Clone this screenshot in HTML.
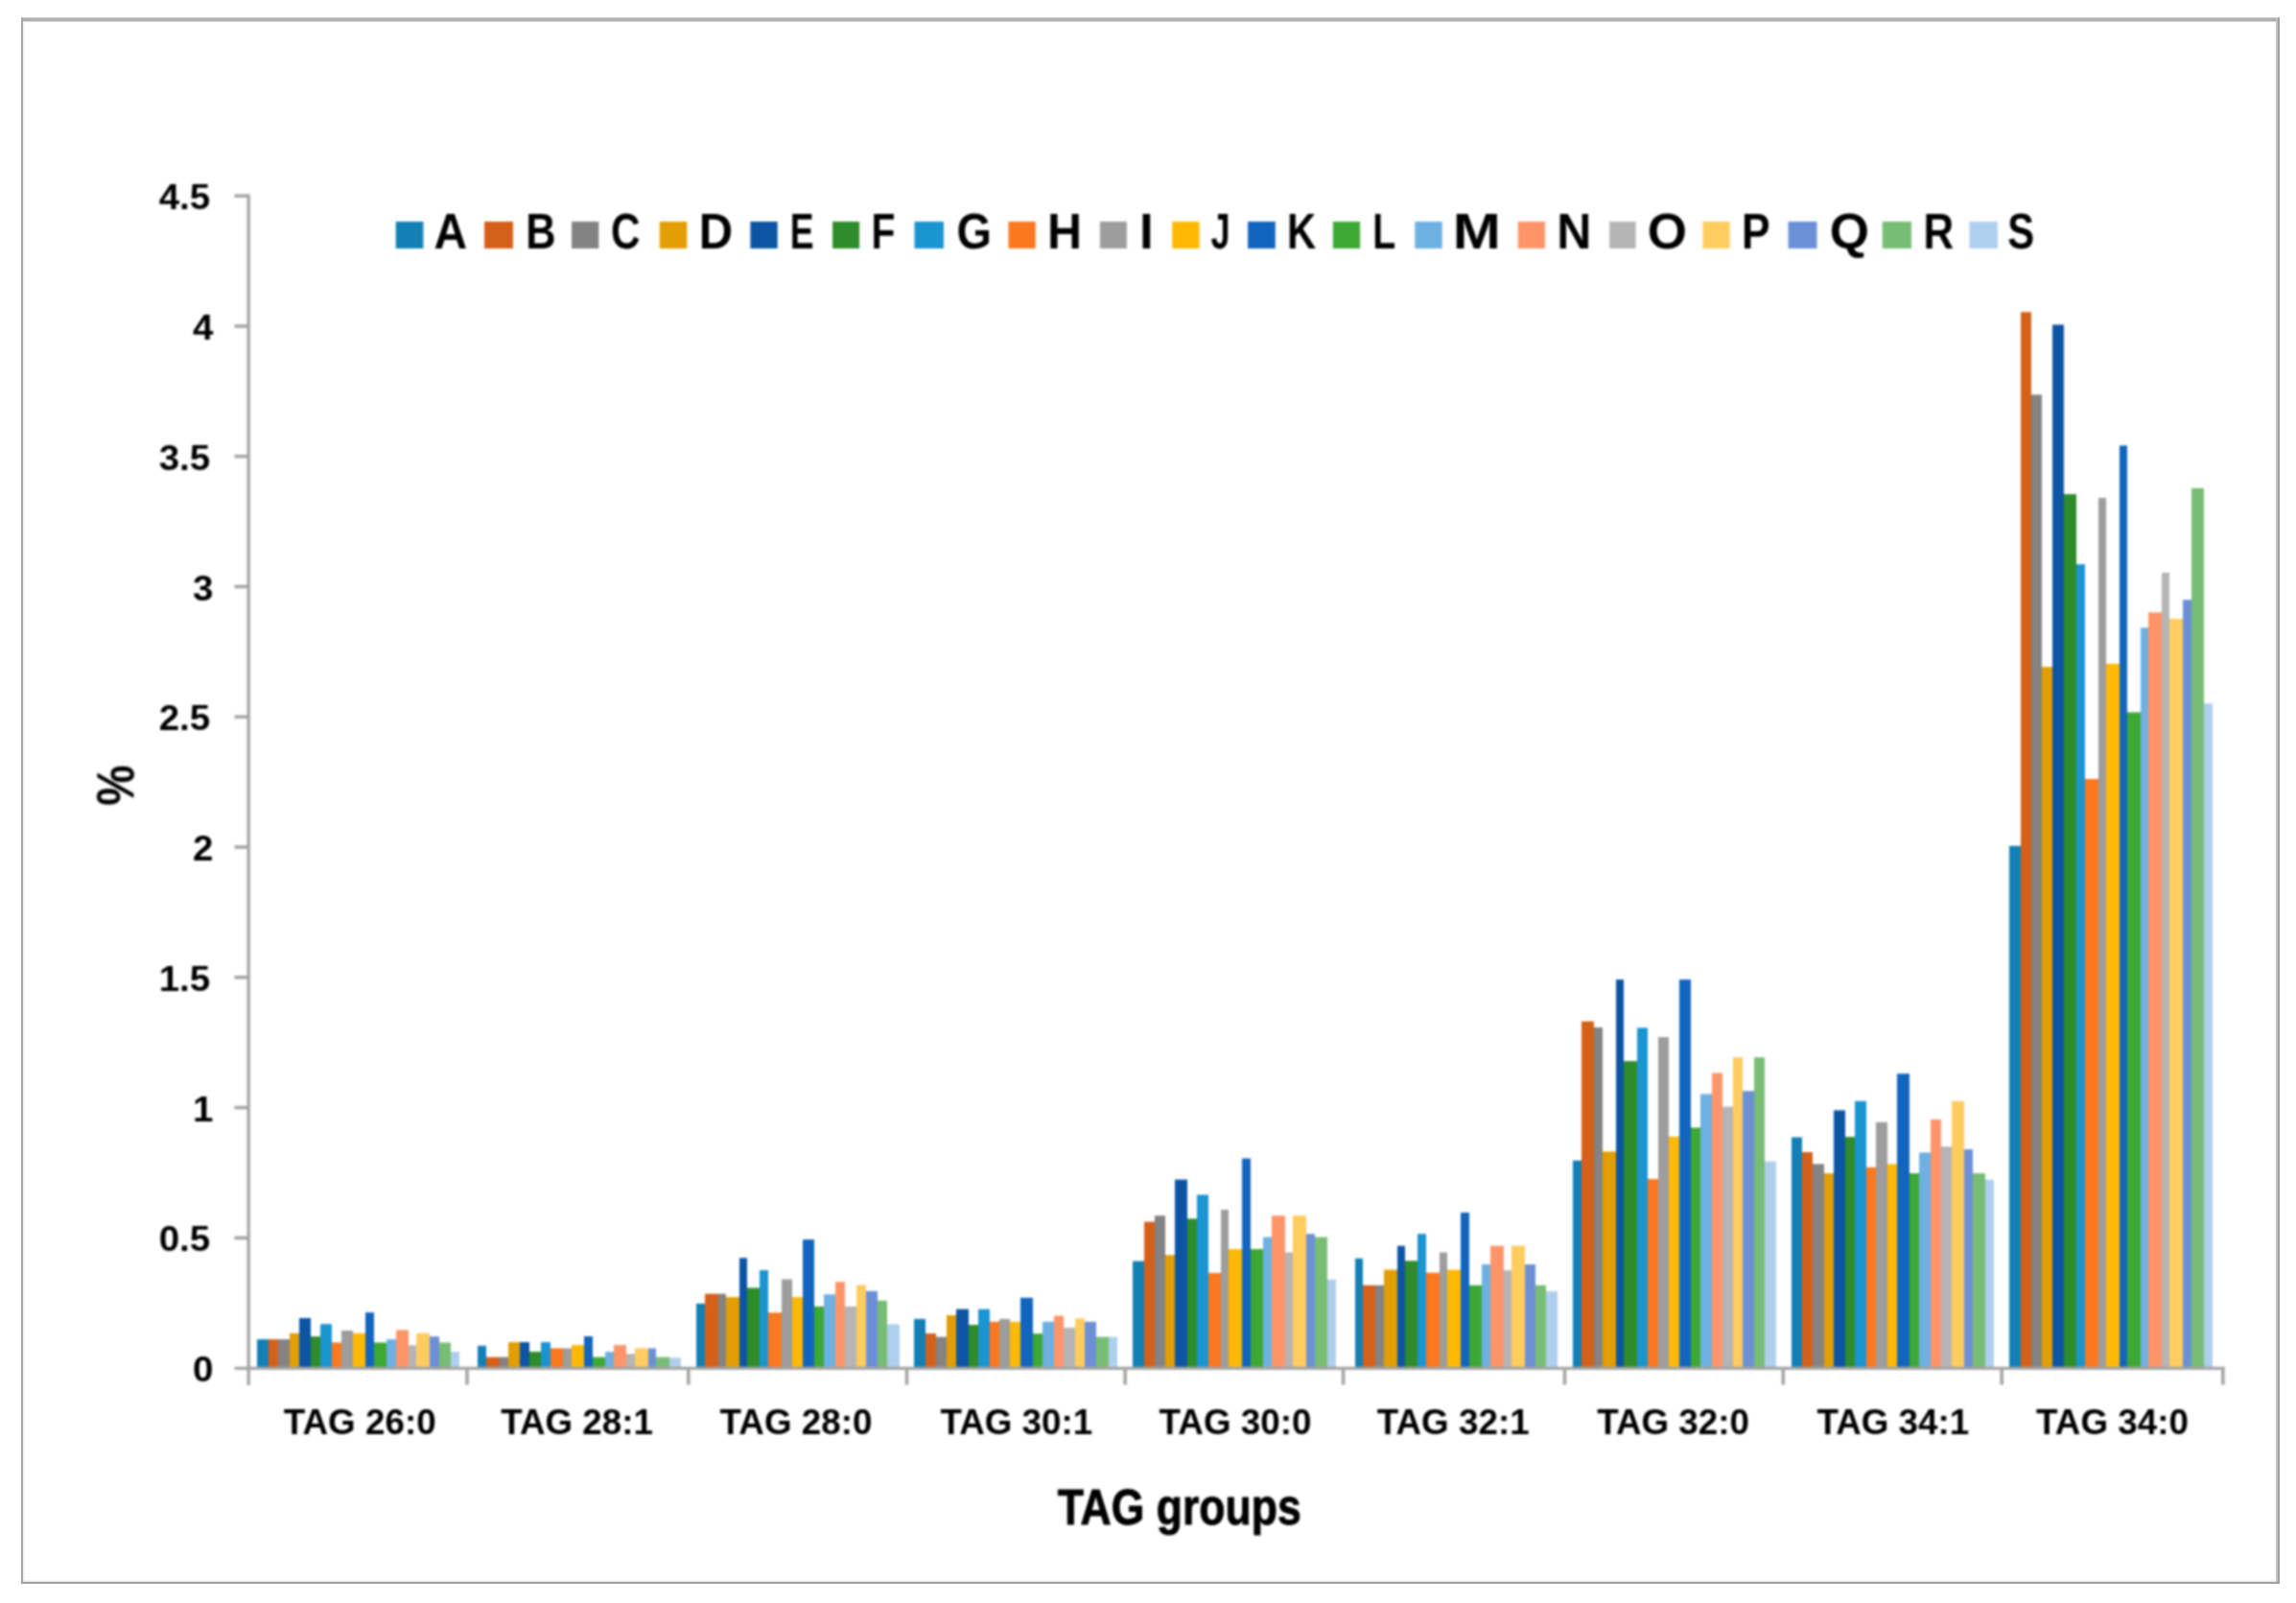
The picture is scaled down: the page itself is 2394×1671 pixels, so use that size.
<!DOCTYPE html>
<html lang="en"><head><meta charset="utf-8"><title>TAG groups</title>
<style>html,body{margin:0;padding:0;background:#fff}body{width:2394px;height:1671px;overflow:hidden}svg{display:block}.soft{filter:blur(0.9px)}text{font-family:"Liberation Sans",sans-serif;font-weight:bold;fill:#000}.t36{font-size:36px}.t37{font-size:37px}.t48{font-size:51px}</style></head><body>
<svg width="2394" height="1671" viewBox="0 0 2394 1671">
<rect x="0" y="0" width="2394" height="1671" fill="#ffffff"/>
<g>
<rect x="22" y="18.4" width="2355" height="4.1" fill="#b0b0b0"/>
<rect x="22" y="18.4" width="2.2" height="1632.6" fill="#a8a8a8"/>
<rect x="24.2" y="22.5" width="1.4" height="1625" fill="#f4f4f4"/>
<rect x="2373.1" y="18.4" width="1.9" height="1632.6" fill="#c2c2c2"/>
<rect x="2375" y="18.4" width="2" height="1632.6" fill="#a0a0a0"/>
<rect x="24" y="1647.3" width="2349" height="1.6" fill="#f2f2f2"/>
<rect x="22" y="1648.9" width="2355" height="2.1" fill="#a0a0a0"/>
</g>
<g class="soft">
<g shape-rendering="geometricPrecision">
<rect x="268.00" y="1396.1" width="12.00" height="29.9" fill="#1280B4"/>
<rect x="280.00" y="1396.1" width="10.00" height="29.9" fill="#D4601A"/>
<rect x="290.00" y="1396.1" width="12.00" height="29.9" fill="#838383"/>
<rect x="302.00" y="1389.8" width="10.00" height="36.2" fill="#E29E03"/>
<rect x="312.00" y="1374.0" width="12.00" height="52.0" fill="#0B55A4"/>
<rect x="324.00" y="1393.2" width="10.00" height="32.8" fill="#2F8C2A"/>
<rect x="334.00" y="1380.2" width="12.00" height="45.8" fill="#1B94D2"/>
<rect x="346.00" y="1399.5" width="10.00" height="26.5" fill="#FB7720"/>
<rect x="356.00" y="1387.0" width="12.00" height="39.0" fill="#9D9D9D"/>
<rect x="368.00" y="1389.8" width="13.00" height="36.2" fill="#FFB905"/>
<rect x="381.00" y="1368.1" width="9.00" height="57.9" fill="#1265BE"/>
<rect x="390.00" y="1399.5" width="13.00" height="26.5" fill="#3DA934"/>
<rect x="403.00" y="1396.1" width="10.00" height="29.9" fill="#6DB1E3"/>
<rect x="413.00" y="1386.4" width="13.00" height="39.6" fill="#FF9468"/>
<rect x="426.00" y="1402.3" width="8.00" height="23.7" fill="#B5B5B5"/>
<rect x="434.00" y="1389.8" width="14.00" height="36.2" fill="#FFCC5E"/>
<rect x="448.00" y="1393.2" width="10.00" height="32.8" fill="#6B90D6"/>
<rect x="458.00" y="1399.5" width="12.00" height="26.5" fill="#78BD74"/>
<rect x="470.00" y="1409.1" width="9.00" height="16.9" fill="#AFCFEE"/>
<rect x="498.00" y="1402.8" width="9.00" height="23.2" fill="#1280B4"/>
<rect x="507.00" y="1414.7" width="14.00" height="11.3" fill="#D4601A"/>
<rect x="521.00" y="1414.7" width="9.00" height="11.3" fill="#838383"/>
<rect x="530.00" y="1399.1" width="12.00" height="26.9" fill="#E29E03"/>
<rect x="542.00" y="1399.1" width="10.00" height="26.9" fill="#0B55A4"/>
<rect x="552.00" y="1409.1" width="12.00" height="16.9" fill="#2F8C2A"/>
<rect x="564.00" y="1399.1" width="10.00" height="26.9" fill="#1B94D2"/>
<rect x="574.00" y="1405.5" width="13.00" height="20.5" fill="#FB7720"/>
<rect x="587.00" y="1405.5" width="9.00" height="20.5" fill="#9D9D9D"/>
<rect x="596.00" y="1402.1" width="13.00" height="23.9" fill="#FFB905"/>
<rect x="609.00" y="1393.0" width="9.00" height="33.0" fill="#1265BE"/>
<rect x="618.00" y="1414.7" width="13.00" height="11.3" fill="#3DA934"/>
<rect x="631.00" y="1409.1" width="9.00" height="16.9" fill="#6DB1E3"/>
<rect x="640.00" y="1402.1" width="13.00" height="23.9" fill="#FF9468"/>
<rect x="653.00" y="1411.3" width="9.00" height="14.7" fill="#B5B5B5"/>
<rect x="662.00" y="1405.5" width="14.00" height="20.5" fill="#FFCC5E"/>
<rect x="676.00" y="1405.5" width="8.00" height="20.5" fill="#6B90D6"/>
<rect x="684.00" y="1414.7" width="14.00" height="11.3" fill="#78BD74"/>
<rect x="698.00" y="1415.3" width="12.00" height="10.7" fill="#AFCFEE"/>
<rect x="726.00" y="1358.9" width="9.00" height="67.1" fill="#1280B4"/>
<rect x="735.00" y="1348.7" width="14.00" height="77.3" fill="#D4601A"/>
<rect x="749.00" y="1348.7" width="8.00" height="77.3" fill="#838383"/>
<rect x="757.00" y="1352.1" width="14.00" height="73.9" fill="#E29E03"/>
<rect x="771.00" y="1311.3" width="8.00" height="114.7" fill="#0B55A4"/>
<rect x="779.00" y="1342.5" width="13.00" height="83.5" fill="#2F8C2A"/>
<rect x="792.00" y="1324.1" width="9.00" height="101.9" fill="#1B94D2"/>
<rect x="801.00" y="1368.3" width="14.00" height="57.7" fill="#FB7720"/>
<rect x="815.00" y="1333.6" width="11.00" height="92.4" fill="#9D9D9D"/>
<rect x="826.00" y="1352.1" width="11.00" height="73.9" fill="#FFB905"/>
<rect x="837.00" y="1292.1" width="12.00" height="133.9" fill="#1265BE"/>
<rect x="849.00" y="1361.9" width="10.00" height="64.1" fill="#3DA934"/>
<rect x="859.00" y="1349.3" width="12.00" height="76.7" fill="#6DB1E3"/>
<rect x="871.00" y="1336.2" width="10.00" height="89.8" fill="#FF9468"/>
<rect x="881.00" y="1361.9" width="12.00" height="64.1" fill="#B5B5B5"/>
<rect x="893.00" y="1339.6" width="10.00" height="86.4" fill="#FFCC5E"/>
<rect x="903.00" y="1345.9" width="12.00" height="80.1" fill="#6B90D6"/>
<rect x="915.00" y="1355.8" width="10.00" height="70.2" fill="#78BD74"/>
<rect x="925.00" y="1380.4" width="13.00" height="45.6" fill="#AFCFEE"/>
<rect x="953.00" y="1374.9" width="12.00" height="51.1" fill="#1280B4"/>
<rect x="965.00" y="1390.0" width="11.00" height="36.0" fill="#D4601A"/>
<rect x="976.00" y="1393.6" width="11.00" height="32.4" fill="#838383"/>
<rect x="987.00" y="1371.0" width="10.00" height="55.0" fill="#E29E03"/>
<rect x="997.00" y="1364.7" width="13.00" height="61.3" fill="#0B55A4"/>
<rect x="1010.00" y="1381.1" width="10.00" height="44.9" fill="#2F8C2A"/>
<rect x="1020.00" y="1364.7" width="12.00" height="61.3" fill="#1B94D2"/>
<rect x="1032.00" y="1377.8" width="10.00" height="48.2" fill="#FB7720"/>
<rect x="1042.00" y="1374.9" width="11.00" height="51.1" fill="#9D9D9D"/>
<rect x="1053.00" y="1377.8" width="11.00" height="48.2" fill="#FFB905"/>
<rect x="1064.00" y="1352.8" width="13.00" height="73.2" fill="#1265BE"/>
<rect x="1077.00" y="1390.2" width="10.00" height="35.8" fill="#3DA934"/>
<rect x="1087.00" y="1377.8" width="12.00" height="48.2" fill="#6DB1E3"/>
<rect x="1099.00" y="1371.5" width="10.00" height="54.5" fill="#FF9468"/>
<rect x="1109.00" y="1384.0" width="12.00" height="42.0" fill="#B5B5B5"/>
<rect x="1121.00" y="1374.4" width="10.00" height="51.6" fill="#FFCC5E"/>
<rect x="1131.00" y="1377.8" width="12.00" height="48.2" fill="#6B90D6"/>
<rect x="1143.00" y="1393.6" width="13.00" height="32.4" fill="#78BD74"/>
<rect x="1156.00" y="1393.6" width="9.00" height="32.4" fill="#AFCFEE"/>
<rect x="1181.00" y="1314.6" width="12.00" height="111.4" fill="#1280B4"/>
<rect x="1193.00" y="1273.6" width="11.00" height="152.4" fill="#D4601A"/>
<rect x="1204.00" y="1267.2" width="11.00" height="158.8" fill="#838383"/>
<rect x="1215.00" y="1308.3" width="10.00" height="117.7" fill="#E29E03"/>
<rect x="1225.00" y="1229.6" width="13.00" height="196.4" fill="#0B55A4"/>
<rect x="1238.00" y="1270.4" width="10.00" height="155.6" fill="#2F8C2A"/>
<rect x="1248.00" y="1245.5" width="12.00" height="180.5" fill="#1B94D2"/>
<rect x="1260.00" y="1327.0" width="13.00" height="99.0" fill="#FB7720"/>
<rect x="1273.00" y="1261.1" width="8.00" height="164.9" fill="#9D9D9D"/>
<rect x="1281.00" y="1302.1" width="14.00" height="123.9" fill="#FFB905"/>
<rect x="1295.00" y="1207.6" width="9.00" height="218.4" fill="#1265BE"/>
<rect x="1304.00" y="1302.1" width="13.00" height="123.9" fill="#3DA934"/>
<rect x="1317.00" y="1289.6" width="9.00" height="136.4" fill="#6DB1E3"/>
<rect x="1326.00" y="1267.2" width="14.00" height="158.8" fill="#FF9468"/>
<rect x="1340.00" y="1305.5" width="8.00" height="120.5" fill="#B5B5B5"/>
<rect x="1348.00" y="1267.2" width="14.00" height="158.8" fill="#FFCC5E"/>
<rect x="1362.00" y="1286.3" width="9.00" height="139.7" fill="#6B90D6"/>
<rect x="1371.00" y="1289.6" width="13.00" height="136.4" fill="#78BD74"/>
<rect x="1384.00" y="1333.8" width="9.00" height="92.2" fill="#AFCFEE"/>
<rect x="1413.00" y="1311.8" width="8.00" height="114.2" fill="#1280B4"/>
<rect x="1421.00" y="1339.8" width="13.00" height="86.2" fill="#D4601A"/>
<rect x="1434.00" y="1339.8" width="9.00" height="86.2" fill="#838383"/>
<rect x="1443.00" y="1323.6" width="14.00" height="102.4" fill="#E29E03"/>
<rect x="1457.00" y="1298.7" width="8.00" height="127.3" fill="#0B55A4"/>
<rect x="1465.00" y="1314.3" width="13.00" height="111.7" fill="#2F8C2A"/>
<rect x="1478.00" y="1286.2" width="9.00" height="139.8" fill="#1B94D2"/>
<rect x="1487.00" y="1326.7" width="14.00" height="99.3" fill="#FB7720"/>
<rect x="1501.00" y="1305.5" width="8.00" height="120.5" fill="#9D9D9D"/>
<rect x="1509.00" y="1323.6" width="14.00" height="102.4" fill="#FFB905"/>
<rect x="1523.00" y="1264.0" width="9.00" height="162.0" fill="#1265BE"/>
<rect x="1532.00" y="1339.8" width="13.00" height="86.2" fill="#3DA934"/>
<rect x="1545.00" y="1318.0" width="9.00" height="108.0" fill="#6DB1E3"/>
<rect x="1554.00" y="1298.7" width="14.00" height="127.3" fill="#FF9468"/>
<rect x="1568.00" y="1324.2" width="8.00" height="101.8" fill="#B5B5B5"/>
<rect x="1576.00" y="1298.7" width="14.00" height="127.3" fill="#FFCC5E"/>
<rect x="1590.00" y="1318.0" width="11.00" height="108.0" fill="#6B90D6"/>
<rect x="1601.00" y="1339.8" width="11.00" height="86.2" fill="#78BD74"/>
<rect x="1612.00" y="1346.1" width="12.00" height="79.9" fill="#AFCFEE"/>
<rect x="1640.00" y="1209.8" width="9.00" height="216.2" fill="#1280B4"/>
<rect x="1649.00" y="1064.7" width="13.00" height="361.3" fill="#D4601A"/>
<rect x="1662.00" y="1071.0" width="9.00" height="355.0" fill="#838383"/>
<rect x="1671.00" y="1200.4" width="14.00" height="225.6" fill="#E29E03"/>
<rect x="1685.00" y="1021.1" width="8.00" height="404.9" fill="#0B55A4"/>
<rect x="1693.00" y="1106.1" width="14.00" height="319.9" fill="#2F8C2A"/>
<rect x="1707.00" y="1071.4" width="11.00" height="354.6" fill="#1B94D2"/>
<rect x="1718.00" y="1229.0" width="11.00" height="197.0" fill="#FB7720"/>
<rect x="1729.00" y="1081.1" width="11.00" height="344.9" fill="#9D9D9D"/>
<rect x="1740.00" y="1184.8" width="11.00" height="241.2" fill="#FFB905"/>
<rect x="1751.00" y="1021.1" width="12.00" height="404.9" fill="#1265BE"/>
<rect x="1763.00" y="1175.5" width="10.00" height="250.5" fill="#3DA934"/>
<rect x="1773.00" y="1140.4" width="12.00" height="285.6" fill="#6DB1E3"/>
<rect x="1785.00" y="1118.5" width="11.00" height="307.5" fill="#FF9468"/>
<rect x="1796.00" y="1153.6" width="11.00" height="272.4" fill="#B5B5B5"/>
<rect x="1807.00" y="1102.2" width="10.00" height="323.8" fill="#FFCC5E"/>
<rect x="1817.00" y="1137.3" width="12.00" height="288.7" fill="#6B90D6"/>
<rect x="1829.00" y="1102.2" width="11.00" height="323.8" fill="#78BD74"/>
<rect x="1840.00" y="1210.6" width="12.00" height="215.4" fill="#AFCFEE"/>
<rect x="1868.00" y="1185.5" width="11.00" height="240.5" fill="#1280B4"/>
<rect x="1879.00" y="1201.0" width="11.00" height="225.0" fill="#D4601A"/>
<rect x="1890.00" y="1213.4" width="12.00" height="212.6" fill="#838383"/>
<rect x="1902.00" y="1223.1" width="10.00" height="202.9" fill="#E29E03"/>
<rect x="1912.00" y="1157.4" width="12.00" height="268.6" fill="#0B55A4"/>
<rect x="1924.00" y="1185.1" width="10.00" height="240.9" fill="#2F8C2A"/>
<rect x="1934.00" y="1147.8" width="12.00" height="278.2" fill="#1B94D2"/>
<rect x="1946.00" y="1216.8" width="10.00" height="209.2" fill="#FB7720"/>
<rect x="1956.00" y="1169.8" width="12.00" height="256.2" fill="#9D9D9D"/>
<rect x="1968.00" y="1213.4" width="10.00" height="212.6" fill="#FFB905"/>
<rect x="1978.00" y="1119.2" width="13.00" height="306.8" fill="#1265BE"/>
<rect x="1991.00" y="1223.1" width="10.00" height="202.9" fill="#3DA934"/>
<rect x="2001.00" y="1201.5" width="12.00" height="224.5" fill="#6DB1E3"/>
<rect x="2013.00" y="1167.0" width="11.00" height="259.0" fill="#FF9468"/>
<rect x="2024.00" y="1195.3" width="11.00" height="230.7" fill="#B5B5B5"/>
<rect x="2035.00" y="1147.8" width="13.00" height="278.2" fill="#FFCC5E"/>
<rect x="2048.00" y="1198.1" width="9.00" height="227.9" fill="#6B90D6"/>
<rect x="2057.00" y="1223.1" width="13.00" height="202.9" fill="#78BD74"/>
<rect x="2070.00" y="1229.8" width="9.00" height="196.2" fill="#AFCFEE"/>
<rect x="2095.00" y="881.8" width="12.00" height="544.2" fill="#1280B4"/>
<rect x="2107.00" y="325.3" width="11.00" height="1100.7" fill="#D4601A"/>
<rect x="2118.00" y="411.4" width="11.00" height="1014.6" fill="#838383"/>
<rect x="2129.00" y="695.2" width="11.00" height="730.8" fill="#E29E03"/>
<rect x="2140.00" y="338.5" width="12.00" height="1087.5" fill="#0B55A4"/>
<rect x="2152.00" y="515.1" width="13.00" height="910.9" fill="#2F8C2A"/>
<rect x="2165.00" y="588.2" width="9.00" height="837.8" fill="#1B94D2"/>
<rect x="2174.00" y="812.0" width="14.00" height="614.0" fill="#FB7720"/>
<rect x="2188.00" y="519.0" width="8.00" height="907.0" fill="#9D9D9D"/>
<rect x="2196.00" y="691.9" width="14.00" height="734.1" fill="#FFB905"/>
<rect x="2210.00" y="464.4" width="8.00" height="961.6" fill="#1265BE"/>
<rect x="2218.00" y="742.5" width="14.00" height="683.5" fill="#3DA934"/>
<rect x="2232.00" y="654.3" width="8.00" height="771.7" fill="#6DB1E3"/>
<rect x="2240.00" y="638.4" width="14.00" height="787.6" fill="#FF9468"/>
<rect x="2254.00" y="596.9" width="8.00" height="829.1" fill="#B5B5B5"/>
<rect x="2262.00" y="645.0" width="14.00" height="781.0" fill="#FFCC5E"/>
<rect x="2276.00" y="625.3" width="9.00" height="800.7" fill="#6B90D6"/>
<rect x="2285.00" y="508.9" width="13.00" height="917.1" fill="#78BD74"/>
<rect x="2298.00" y="733.4" width="9.00" height="692.6" fill="#AFCFEE"/>
</g>
<g stroke="#a5a5a5" stroke-width="3.3" fill="none">
<line x1="259.2" y1="202.5" x2="259.2" y2="1444"/>
<line x1="244.5" y1="1426.3" x2="2319.8" y2="1426.3"/>
</g>
<g stroke="#a5a5a5" stroke-width="3.6" fill="none">
<line x1="244.5" y1="204.2" x2="259.2" y2="204.2"/>
<line x1="244.5" y1="340.0" x2="259.2" y2="340.0"/>
<line x1="244.5" y1="475.7" x2="259.2" y2="475.7"/>
<line x1="244.5" y1="611.5" x2="259.2" y2="611.5"/>
<line x1="244.5" y1="747.3" x2="259.2" y2="747.3"/>
<line x1="244.5" y1="883.0" x2="259.2" y2="883.0"/>
<line x1="244.5" y1="1018.8" x2="259.2" y2="1018.8"/>
<line x1="244.5" y1="1154.6" x2="259.2" y2="1154.6"/>
<line x1="244.5" y1="1290.4" x2="259.2" y2="1290.4"/>
<line x1="487.0" y1="1426.3" x2="487.0" y2="1443.5"/>
<line x1="717.8" y1="1426.3" x2="717.8" y2="1443.5"/>
<line x1="945.5" y1="1426.3" x2="945.5" y2="1443.5"/>
<line x1="1173.2" y1="1426.3" x2="1173.2" y2="1443.5"/>
<line x1="1400.6" y1="1426.3" x2="1400.6" y2="1443.5"/>
<line x1="1631.5" y1="1426.3" x2="1631.5" y2="1443.5"/>
<line x1="1859.3" y1="1426.3" x2="1859.3" y2="1443.5"/>
<line x1="2087.2" y1="1426.3" x2="2087.2" y2="1443.5"/>
<line x1="2317.8" y1="1426.3" x2="2317.8" y2="1443.5"/>
</g>
<text class="t36" transform="translate(192.4,218.2) scale(1.07,1)" text-anchor="middle">4.5</text>
<text class="t36" transform="translate(211.8,354.0) scale(1.07,1)" text-anchor="middle">4</text>
<text class="t36" transform="translate(192.4,489.7) scale(1.07,1)" text-anchor="middle">3.5</text>
<text class="t36" transform="translate(211.8,625.5) scale(1.07,1)" text-anchor="middle">3</text>
<text class="t36" transform="translate(192.4,761.3) scale(1.07,1)" text-anchor="middle">2.5</text>
<text class="t36" transform="translate(211.8,897.0) scale(1.07,1)" text-anchor="middle">2</text>
<text class="t36" transform="translate(192.4,1032.8) scale(1.07,1)" text-anchor="middle">1.5</text>
<text class="t36" transform="translate(211.8,1168.6) scale(1.07,1)" text-anchor="middle">1</text>
<text class="t36" transform="translate(192.4,1304.4) scale(1.07,1)" text-anchor="middle">0.5</text>
<text class="t36" transform="translate(211.8,1440.1) scale(1.07,1)" text-anchor="middle">0</text>
<text class="t37" transform="translate(375.2,1494.8) scale(0.995,1)" text-anchor="middle">TAG 26:0</text>
<text class="t37" transform="translate(601.6,1494.8) scale(0.995,1)" text-anchor="middle">TAG 28:1</text>
<text class="t37" transform="translate(830.0,1494.8) scale(0.995,1)" text-anchor="middle">TAG 28:0</text>
<text class="t37" transform="translate(1059.8,1494.8) scale(0.995,1)" text-anchor="middle">TAG 30:1</text>
<text class="t37" transform="translate(1288.0,1494.8) scale(0.995,1)" text-anchor="middle">TAG 30:0</text>
<text class="t37" transform="translate(1515.2,1494.8) scale(0.995,1)" text-anchor="middle">TAG 32:1</text>
<text class="t37" transform="translate(1744.6,1494.8) scale(0.995,1)" text-anchor="middle">TAG 32:0</text>
<text class="t37" transform="translate(1973.8,1494.8) scale(0.995,1)" text-anchor="middle">TAG 34:1</text>
<text class="t37" transform="translate(2202.5,1494.8) scale(0.995,1)" text-anchor="middle">TAG 34:0</text>
<text class="t48" x="1229.7" y="1589" text-anchor="middle" textLength="254" lengthAdjust="spacingAndGlyphs" stroke="#000" stroke-width="0.9" stroke-linejoin="round">TAG groups</text>
<text style="font-size:56px" transform="translate(139.4,818.6) rotate(-90) scale(0.85,1)" text-anchor="middle">%</text>
<rect x="412.7" y="231" width="28.7" height="28" fill="#1280B4"/>
<text class="t48" transform="translate(469.90,259.2) scale(0.94,1)" text-anchor="middle">A</text>
<rect x="505.0" y="231" width="30.0" height="28" fill="#D4601A"/>
<text class="t48" transform="translate(564.00,259.2) scale(0.85,1)" text-anchor="middle">B</text>
<rect x="596.1" y="231" width="28.2" height="28" fill="#838383"/>
<text class="t48" transform="translate(652.40,259.2) scale(0.83,1)" text-anchor="middle">C</text>
<rect x="687.8" y="231" width="28.5" height="28" fill="#E29E03"/>
<text class="t48" transform="translate(746.50,259.2) scale(0.96,1)" text-anchor="middle">D</text>
<rect x="782.4" y="231" width="28.3" height="28" fill="#0B55A4"/>
<text class="t48" transform="translate(836.20,259.2) scale(0.73,1)" text-anchor="middle">E</text>
<rect x="868.1" y="231" width="28.0" height="28" fill="#2F8C2A"/>
<text class="t48" transform="translate(921.00,259.2) scale(0.80,1)" text-anchor="middle">F</text>
<rect x="953.5" y="231" width="30.5" height="28" fill="#1B94D2"/>
<text class="t48" transform="translate(1015.80,259.2) scale(0.92,1)" text-anchor="middle">G</text>
<rect x="1051.5" y="231" width="28.2" height="28" fill="#FB7720"/>
<text class="t48" transform="translate(1109.95,259.2) scale(0.98,1)" text-anchor="middle">H</text>
<rect x="1146.9" y="231" width="28.0" height="28" fill="#9D9D9D"/>
<text class="t48" transform="translate(1195.25,259.2) scale(1.04,1)" text-anchor="middle">I</text>
<rect x="1222.2" y="231" width="28.4" height="28" fill="#FFB905"/>
<text class="t48" transform="translate(1272.60,259.2) scale(0.71,1)" text-anchor="middle">J</text>
<rect x="1301.1" y="231" width="28.7" height="28" fill="#1265BE"/>
<text class="t48" transform="translate(1357.05,259.2) scale(0.82,1)" text-anchor="middle">K</text>
<rect x="1389.9" y="231" width="28.2" height="28" fill="#3DA934"/>
<text class="t48" transform="translate(1443.20,259.2) scale(0.77,1)" text-anchor="middle">L</text>
<rect x="1475.3" y="231" width="28.5" height="28" fill="#6DB1E3"/>
<text class="t48" transform="translate(1539.70,259.2) scale(1.18,1)" text-anchor="middle">M</text>
<rect x="1582.8" y="231" width="28.2" height="28" fill="#FF9468"/>
<text class="t48" transform="translate(1641.25,259.2) scale(0.98,1)" text-anchor="middle">N</text>
<rect x="1678.2" y="231" width="27.4" height="28" fill="#B5B5B5"/>
<text class="t48" transform="translate(1738.30,259.2) scale(1.04,1)" text-anchor="middle">O</text>
<rect x="1775.4" y="231" width="28.2" height="28" fill="#FFCC5E"/>
<text class="t48" transform="translate(1830.90,259.2) scale(0.87,1)" text-anchor="middle">P</text>
<rect x="1864.5" y="231" width="30.0" height="28" fill="#6B90D6"/>
<text class="t48" transform="translate(1928.30,259.2) scale(1.04,1)" text-anchor="middle">Q</text>
<rect x="1962.7" y="231" width="30.3" height="28" fill="#78BD74"/>
<text class="t48" transform="translate(2021.40,259.2) scale(0.86,1)" text-anchor="middle">R</text>
<rect x="2053.5" y="231" width="29.4" height="28" fill="#AFCFEE"/>
<text class="t48" transform="translate(2107.30,259.2) scale(0.82,1)" text-anchor="middle">S</text>
</g>
</svg></body></html>
